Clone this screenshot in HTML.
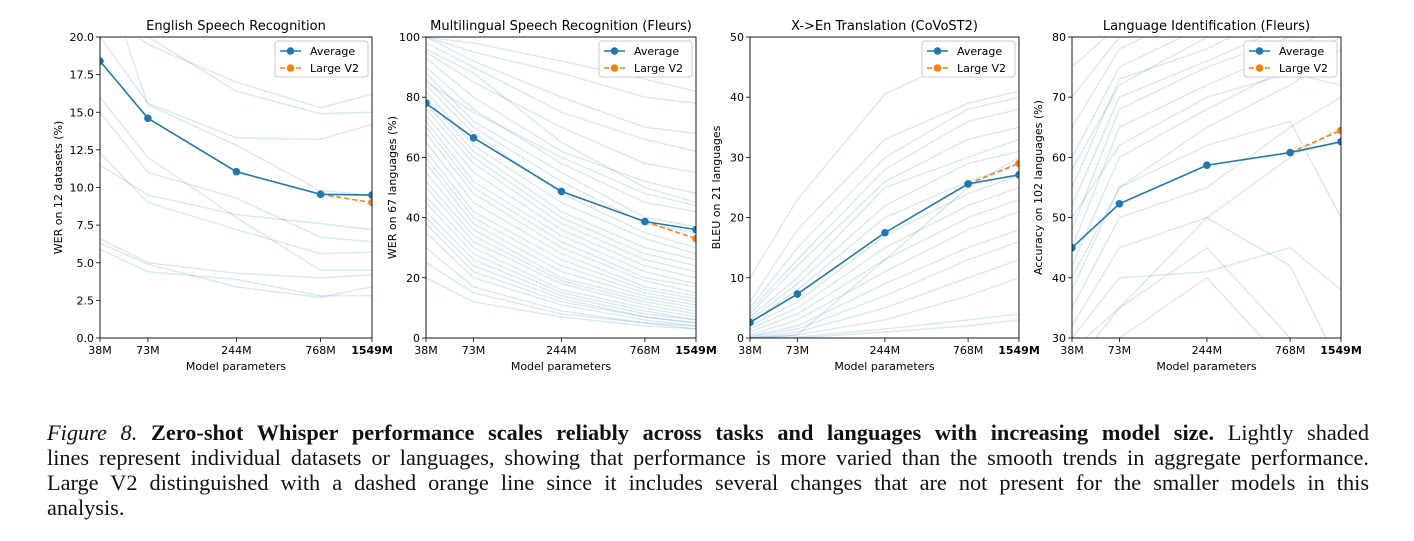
<!DOCTYPE html>
<html><head><meta charset="utf-8"><style>
body{margin:0;background:#fff;width:1414px;height:541px;overflow:hidden;position:relative;font-family:"DejaVu Sans","Liberation Sans",sans-serif}
svg{position:absolute;left:0;top:0}
#cap{position:absolute;left:47px;top:420px;width:1322px;font-family:"Liberation Serif",serif;font-size:22.3px;line-height:25px;color:#111}
#cap div{text-align:justify;text-align-last:justify;height:25px;white-space:nowrap;overflow:visible}
#cap div.last{text-align-last:left}
</style></head><body>
<svg id="svg" width="1414" height="400"></svg>
<div id="cap">
<div><i>Figure 8.</i> <b>Zero-shot Whisper performance scales reliably across tasks and languages with increasing model size.</b> Lightly shaded</div>
<div>lines represent individual datasets or languages, showing that performance is more varied than the smooth trends in aggregate performance.</div>
<div>Large V2 distinguished with a dashed orange line since it includes several changes that are not present for the smaller models in this</div>
<div class="last">analysis.</div>
</div>
<script>
const modelSizes=[38,73,244,768,1549];
const tickLabels=["38M","73M","244M","768M","1549M"];
const titles=["English Speech Recognition","Multilingual Speech Recognition (Fleurs)","X->En Translation (CoVoST2)","Language Identification (Fleurs)"];
const yTitles=["WER on 12 datasets (%)","WER on 67 languages (%)","BLEU on 21 languages","Accuracy on 102 languages (%)"];
const yTicks1=[0,2.5,5,7.5,10,12.5,15,17.5,20];
const yTicks2=[0,20,40,60,80,100];
const yTicks3=[0,10,20,30,40,50];
const yTicks4=[30,40,50,60,70,80];
const avg1=[18.4,14.6,11.05,9.55,9.5], v2_1=9.0;
const avg2=[78,66.5,48.7,38.7,36], v2_2=33;
const avg3=[2.6,7.3,17.5,25.6,27.1], v2_3=29;
const avg4=[45,52.3,58.7,60.8,62.6], v2_4=64.5;
const light1=[[22,19.5,17,15.3,16.2],[24,20,16.4,14.9,15],[20,15.6,13.3,13.2,14.2],[25,15.5,12.8,9.8,9.5],[15,11,9.3,6.7,6.4],[12.3,9,7.2,5.6,5.7],[11.5,9.5,8.2,7.6,7.2],[6.6,5,4.3,4,4.2],[6.3,4.9,3.4,2.7,3.4],[5.9,4.4,3.9,2.8,2.8],[16,12,8,4.5,4.5]];
const light2=[[100,95,88,80,78],[98,90,75,66,62],[95,85,70,58,55],[93,80,62,52,48],[90,76,58,45,42],[88,72,55,40,37],[86,70,52,38,35],[84,68,48,35,30],[82,64,45,33,28],[80,62,42,30,26],[78,60,40,28,24],[76,58,38,26,22],[74,55,36,24,20],[72,52,34,22,18],[70,50,32,20,17],[68,48,30,19,15],[65,45,28,17,14],[62,42,26,16,13],[60,40,24,15,12],[58,38,22,14,11],[55,36,20,13,10],[52,34,19,12,9],[50,32,18,11,8],[47,30,16,10,7],[45,28,15,9,6],[42,26,14,8,6],[40,24,13,7,5],[38,22,12,7,5],[35,20,11,6,4],[30,17,9,5,4],[25,15,8,5,3],[20,12,7,4,3],[100,98,92,86,82],[100,92,80,70,68],[96,88,65,50,45],[85,75,60,48,44]];
const light3=[[10,23,40.5,47,49],[6,18,33,39,41],[5,15,30,38,40],[4.5,13,28,36,38],[4,12,26,33,35],[3.5,10,25,30,33],[3,9,22,29,31],[2.5,8,20,26,29],[2,6,17,24,27],[1.5,5,15,22,25],[1,4,13,20,23],[0.5,3,11,18,21],[0.3,2,9,15,18],[0.2,1.5,7,13,16],[0,1,5,10,13],[0,0.5,3,7,10],[0,0.2,1.5,3,4],[0,0,1,2,3],[0,0.5,13,25,30]];
const light4=[[75,82,90,95,96],[70,80,88,92,94],[65,78,85,90,92],[60,75,82,88,90],[55,73,78,85,88],[52,70,76,82,86],[48,68,75,80,84],[45,65,72,78,82],[42,60,68,75,80],[38,55,65,72,78],[35,50,55,65,70],[32,45,50,60,65],[30,40,41,45,38],[25,35,50,42,25],[28,35,45,30,20],[20,30,40,25,30],[40,55,62,66,50],[50,62,70,74,72],[58,72,80,86,92]];
const panels=[
 {x0:100,x1:372,yt:yTicks1,avg:avg1,v2:v2_1,light:light1,fmt:v=>v.toFixed(1)},
 {x0:426,x1:696,yt:yTicks2,avg:avg2,v2:v2_2,light:light2,fmt:v=>String(v)},
 {x0:750,x1:1019,yt:yTicks3,avg:avg3,v2:v2_3,light:light3,fmt:v=>String(v)},
 {x0:1072,x1:1341,yt:yTicks4,avg:avg4,v2:v2_4,light:light4,fmt:v=>String(v)}];
const NS="http://www.w3.org/2000/svg";
const svg=document.getElementById('svg');
function mk(t,a,p){const e=document.createElementNS(NS,t);for(const k in a)e.setAttribute(k,a[k]);(p||svg).appendChild(e);return e;}
const Y0=37,Y1=338;
panels.forEach((P,i)=>{
 const g=mk('g',{});
 
 
 const lmin=Math.log10(modelSizes[0]),lmax=Math.log10(modelSizes[4]);
 const xs=v=>P.x0+(Math.log10(v)-lmin)/(lmax-lmin)*(P.x1-P.x0);
 const ymin=P.yt[0],ymax=P.yt[P.yt.length-1];
 const ys=v=>Y1-(v-ymin)/(ymax-ymin)*(Y1-Y0);
 const cid='c'+i;
 const cp=mk('clipPath',{id:cid},g);mk('rect',{x:P.x0,y:Y0,width:P.x1-P.x0,height:Y1-Y0},cp);
 const lg=mk('g',{'clip-path':'url(#'+cid+')'},g);
 P.light.forEach(s=>{
  const l=mk('polyline',{points:s.map((v,j)=>xs(modelSizes[j])+','+ys(v)).join(' '),fill:'none',stroke:'#1f77b4','stroke-opacity':0.17,'stroke-width':1.4},lg);
  
  
 });
 const d=mk('polyline',{points:xs(modelSizes[3])+','+ys(P.avg[3])+' '+xs(modelSizes[4])+','+ys(P.v2),fill:'none',stroke:'#ff7f0e','stroke-width':1.6,'stroke-dasharray':'5,3'},lg);
 
 
 const v2p=mk('circle',{cx:xs(modelSizes[4]),cy:ys(P.v2),r:3.8,fill:'#ff7f0e'},lg);
 
 
 const a=mk('polyline',{points:P.avg.map((v,j)=>xs(modelSizes[j])+','+ys(v)).join(' '),fill:'none',stroke:'#1f77b4','stroke-width':1.6},lg);
 
 
 P.avg.forEach((v,j)=>{const c=mk('circle',{cx:xs(modelSizes[j]),cy:ys(v),r:3.8,fill:'#1f77b4'},lg);
  
  });
 mk('rect',{x:P.x0,y:Y0,width:P.x1-P.x0,height:Y1-Y0,fill:'none',stroke:'#000','stroke-width':0.9},g);
 P.yt.forEach(v=>{mk('line',{x1:P.x0-4,x2:P.x0,y1:ys(v),y2:ys(v),stroke:'#000','stroke-width':0.8},g);
  const t=mk('text',{x:P.x0-6,y:ys(v)+4,'text-anchor':'end','font-size':11},g);t.textContent=P.fmt(v);
  });
 modelSizes.forEach((m,j)=>{mk('line',{x1:xs(m),x2:xs(m),y1:Y1,y2:Y1+4,stroke:'#000','stroke-width':0.8},g);
  const t=mk('text',{x:xs(m),y:Y1+16,'text-anchor':'middle','font-size':11,'font-weight':j==4?'bold':'normal'},g);t.textContent=tickLabels[j];
  });
 const cx=(P.x0+P.x1)/2;
 const tt=mk('text',{x:cx,y:30,'text-anchor':'middle','font-size':13},g);tt.textContent=titles[i];
 
 const xt=mk('text',{x:cx,y:370,'text-anchor':'middle','font-size':11},g);xt.textContent='Model parameters';
 
 const yx=P.x0-(i==0?38:30);
 const yt=mk('text',{x:yx,y:(Y0+Y1)/2,'text-anchor':'middle','font-size':11,transform:'rotate(-90 '+yx+' '+(Y0+Y1)/2+')'},g);yt.textContent=yTitles[i];
 
 const lgd=mk('g',{},g);
 
 const lx=P.x1-97;
 mk('rect',{x:lx,y:41,width:93,height:36,rx:3,fill:'#fff','fill-opacity':0.85,stroke:'#ccc'},lgd);
 mk('line',{x1:lx+5,x2:lx+26,y1:51,y2:51,stroke:'#1f77b4','stroke-width':1.6},lgd);
 mk('circle',{cx:lx+15.5,cy:51,r:3.8,fill:'#1f77b4'},lgd);
 mk('line',{x1:lx+5,x2:lx+26,y1:68,y2:68,stroke:'#ff7f0e','stroke-width':1.6,'stroke-dasharray':'5,3'},lgd);
 mk('circle',{cx:lx+15.5,cy:68,r:3.8,fill:'#ff7f0e'},lgd);
 const t1=mk('text',{x:lx+35,y:55,'font-size':11},lgd);t1.textContent='Average';
 const t2=mk('text',{x:lx+35,y:72,'font-size':11},lgd);t2.textContent='Large V2';
});
</script>
</body></html>
